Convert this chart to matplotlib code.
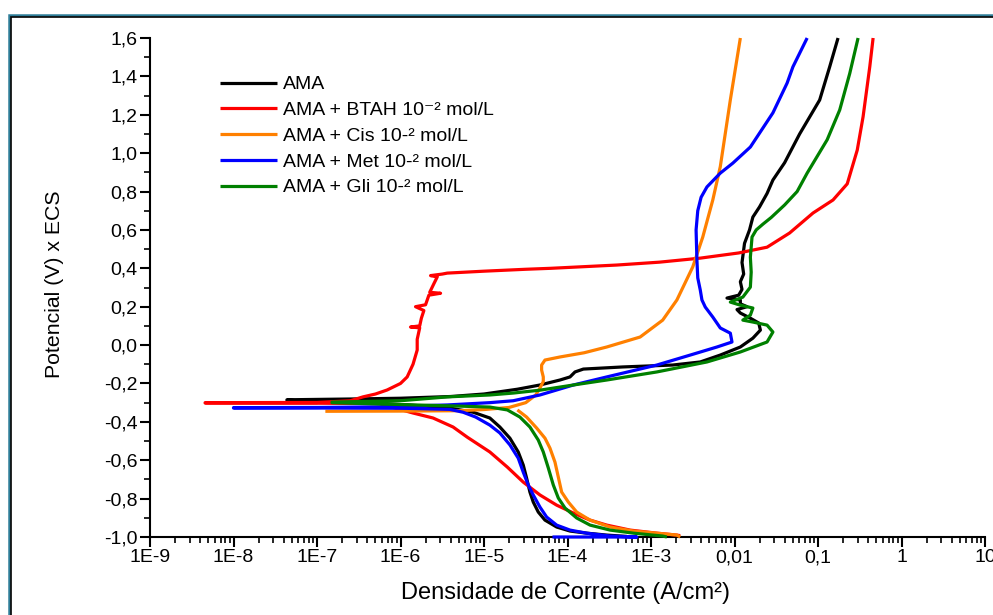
import matplotlib
matplotlib.use("Agg")
import numpy as np
import matplotlib.pyplot as plt
from matplotlib.patches import Rectangle
from matplotlib.ticker import FixedLocator, FixedFormatter, LogLocator, NullFormatter, MultipleLocator

plt.rcParams['font.family'] = ['Liberation Sans', 'DejaVu Sans']
plt.rcParams['mathtext.default'] = 'regular'
plt.rcParams['axes.unicode_minus'] = False

# ---- data: log10 of current density (A/cm2) and potential (V vs ECS) ----
# nan marks a break in a recorded curve
ama_logi = [-3.29, -3.53, -3.77, -3.97, -4.13, -4.27, -4.35, -4.41, -4.45, -4.49, -4.53, -4.59, -4.69,
            -4.81, -4.93, -5.13, -5.41, -5.9, -6.6, -7.36,
            -7.36, -6.6, -6.0, -5.4, -5.0, -4.6, -4.33, -4.09, -3.97, -3.91, -3.81, -3.34, -2.74, -2.41,
            -2.17, -1.93, -1.78, -1.69, -1.71, -1.81, -1.93, -1.97, -1.85, -1.93, -1.93, -2.09, -1.95,
            -1.91, -1.93, -1.89, -1.91, -1.88, -1.82, -1.78, -1.70, -1.61, -1.54, -1.40, -1.22, -0.98,
            -0.86, -0.76]
ama_e = [-0.997, -0.990, -0.980, -0.969, -0.948, -0.912, -0.870, -0.818, -0.766, -0.693, -0.625, -0.557, -0.485,
         -0.427, -0.380, -0.350, -0.328, -0.312, -0.298, -0.288,
         -0.285, -0.281, -0.277, -0.268, -0.255, -0.230, -0.208, -0.182, -0.166, -0.140, -0.125, -0.114, -0.104, -0.088,
         -0.052, -0.010, 0.036, 0.078, 0.115, 0.140, 0.167, 0.185, 0.200, 0.215, 0.235, 0.245, 0.260,
         0.290, 0.330, 0.370, 0.430, 0.530, 0.600, 0.667, 0.720, 0.790, 0.860, 0.950, 1.100, 1.277,
         1.450, 1.600]

btah_logi = [-2.65, -2.69, -2.93, -3.25, -3.53, -3.73, -3.93, -4.13, -4.33, -4.53, -4.72, -4.93, -5.2,
             -5.37, -5.61, -5.85, -6.05, -6.25, -7.0, -8.34,
             -8.34, -7.0, -6.6, -6.45, -6.3, -6.16, -6.0, -5.92, -5.85, -5.8, -5.8, -5.77, -5.88, -5.77,
             -5.75, -5.72, -5.82, -5.70, -5.68, -5.66, -5.52, -5.65, -5.6, -5.56, -5.64, -5.5, -5.44,
             -5.0, -4.5, -4.2, -3.41, -2.9, -2.41, -1.95, -1.61, -1.34, -1.06, -0.82, -0.65, -0.53,
             -0.46, -0.38, -0.34]
btah_e = [-0.993, -0.990, -0.980, -0.964, -0.938, -0.912, -0.875, -0.834, -0.781, -0.714, -0.636, -0.557, -0.480,
          -0.427, -0.380, -0.354, -0.330, -0.305, -0.303, -0.302,
          -0.300, -0.299, -0.290, -0.270, -0.255, -0.234, -0.200, -0.166, -0.100, -0.026, 0.030, 0.090, 0.094, 0.100,
          0.140, 0.180, 0.200, 0.210, 0.235, 0.260, 0.270, 0.275, 0.320, 0.355, 0.362, 0.370, 0.375,
          0.385, 0.395, 0.400, 0.417, 0.432, 0.453, 0.480, 0.510, 0.584, 0.688, 0.756, 0.840, 1.016,
          1.190, 1.450, 1.600]

cis_logi = [-2.65, -2.69, -2.93, -3.21, -3.49, -3.73, -3.89, -3.99, -4.07, -4.11, -4.15, -4.21, -4.27,
            -4.37, -4.49, -4.6, np.nan,
            -6.9, -6.0, -5.3, -5.0, -4.7, -4.5, -4.38, -4.33, -4.29, -4.29, -4.31, -4.31, -4.27, -4.09,
            -3.8, -3.53, -3.13, -2.86, -2.69, -2.5, -2.38, -2.26, -2.17, -2.05, -1.93]
cis_e = [-1.000, -0.990, -0.980, -0.969, -0.948, -0.912, -0.870, -0.818, -0.766, -0.688, -0.610, -0.537, -0.485,
         -0.432, -0.375, -0.338, np.nan,
         -0.345, -0.344, -0.342, -0.336, -0.325, -0.300, -0.260, -0.224, -0.190, -0.166, -0.130, -0.104, -0.078, -0.062,
         -0.040, -0.010, 0.042, 0.130, 0.235, 0.407, 0.563, 0.756, 0.930, 1.277, 1.600]

met_logi = [-4.18, -3.17, -3.49, -3.77, -3.97, -4.13, -4.25, -4.33, -4.41, -4.47, -4.53, -4.59, -4.69,
            -4.81, -4.93, -5.1, -5.25, -5.41, -6.0, -7.0, -8.0,
            -8.0, -7.0, -6.25, -5.44, -4.93, -4.65, -4.33, -3.93, -3.53, -2.93, -2.53, -2.21, -2.03,
            -2.05, -2.17, -2.26, -2.35, -2.39, -2.41, -2.44, -2.45, -2.46, -2.44, -2.4, -2.33, -2.17,
            -2.02, -1.81, -1.54, -1.37, -1.3, -1.13]
met_e = [-1.000, -1.000, -0.995, -0.980, -0.964, -0.938, -0.896, -0.844, -0.781, -0.729, -0.662, -0.589, -0.520,
         -0.458, -0.417, -0.375, -0.350, -0.335, -0.329, -0.328, -0.328,
         -0.326, -0.325, -0.322, -0.312, -0.300, -0.290, -0.260, -0.208, -0.166, -0.104, -0.052, -0.010, 0.016,
         0.062, 0.089, 0.146, 0.198, 0.235, 0.287, 0.350, 0.443, 0.600, 0.700, 0.770, 0.824, 0.896,
         0.948, 1.032, 1.210, 1.365, 1.450, 1.600]

gli_logi = [-2.81, -2.86, -3.21, -3.49, -3.73, -3.89, -4.03, -4.11, -4.17, -4.23, -4.29, -4.35, -4.45,
            -4.57, -4.72, -4.93, -5.3, -6.0, -6.82,
            -6.82, -6.0, -5.44, -4.93, -4.65, -4.33, -3.93, -3.53, -2.93, -2.33, -1.93, -1.61, -1.54,
            -1.61, -1.78, -1.90, -1.81, -1.78, -1.93, -2.05, -1.90, -1.81, -1.80, -1.81, -1.79, -1.74,
            -1.66, -1.56, -1.40, -1.25, -1.13, -0.89, -0.74, -0.62, -0.52]
gli_e = [-1.000, -0.995, -0.980, -0.964, -0.938, -0.901, -0.849, -0.797, -0.729, -0.640, -0.557, -0.495, -0.427,
         -0.375, -0.338, -0.323, -0.318, -0.310, -0.300,
         -0.297, -0.290, -0.270, -0.260, -0.250, -0.235, -0.208, -0.182, -0.140, -0.088, -0.036, 0.016, 0.068,
         0.104, 0.120, 0.130, 0.156, 0.193, 0.208, 0.224, 0.250, 0.302, 0.380, 0.458, 0.563, 0.600,
         0.630, 0.665, 0.730, 0.800, 0.896, 1.070, 1.225, 1.415, 1.600]

labels = ['AMA', 'AMA + BTAH 10⁻² mol/L', 'AMA + Cis 10-² mol/L',
          'AMA + Met 10-² mol/L', 'AMA + Gli 10-² mol/L']
colors = ['#000000', '#ff0000', '#ff8000', '#0000ff', '#008000']

xticks = [1e-9, 1e-8, 1e-7, 1e-6, 1e-5, 1e-4, 1e-3, 1e-2, 1e-1, 1, 10]
xticklabels = ['1E-9', '1E-8', '1E-7', '1E-6', '1E-5', '1E-4', '1E-3', '0,01', '0,1', '1', '10']
yticks = [-1.0, -0.8, -0.6, -0.4, -0.2, 0.0, 0.2, 0.4, 0.6, 0.8, 1.0, 1.2, 1.4, 1.6]
yticklabels = ['-1,0', '-0,8', '-0,6', '-0,4', '-0,2', '0,0', '0,2', '0,4', '0,6', '0,8',
               '1,0', '1,2', '1,4', '1,6']

W, H = 993, 615
fig = plt.figure(figsize=(W / 100, H / 100), dpi=100)
ax = fig.add_axes([150 / W, 1 - 537 / H, (985 - 150) / W, (537 - 38) / H])

series = [(ama_logi, ama_e), (btah_logi, btah_e), (cis_logi, cis_e), (met_logi, met_e), (gli_logi, gli_e)]
order = [1, 2, 4, 0, 3]
handles = {}
for k in order:
    li, ye = series[k]
    ln, = ax.plot(10 ** np.array(li, dtype=float), ye, color=colors[k], lw=2.3, label=labels[k],
                  clip_on=False, solid_capstyle='butt', solid_joinstyle='round', zorder=3 + k * 0.1)
    handles[k] = ln

ax.set_xscale('log')
ax.set_xlim(1e-9, 10)
ax.set_ylim(-1.0, 1.6)
ax.xaxis.set_major_locator(FixedLocator(xticks))
ax.xaxis.set_major_formatter(FixedFormatter(xticklabels))
ax.xaxis.set_minor_locator(LogLocator(base=10, subs=range(2, 10), numticks=100))
ax.xaxis.set_minor_formatter(NullFormatter())
ax.yaxis.set_major_locator(FixedLocator(yticks))
ax.yaxis.set_major_formatter(FixedFormatter(yticklabels))
ax.yaxis.set_minor_locator(MultipleLocator(0.1))

for s in ['top', 'right']:
    ax.spines[s].set_visible(False)
for s in ['left', 'bottom']:
    ax.spines[s].set_linewidth(1.5)
ax.tick_params(which='major', direction='out', length=7, width=1.5, labelsize=14, pad=2, colors='black')
ax.tick_params(which='minor', direction='out', length=4, width=1.2)

ax.set_xlabel('Densidade de Corrente (A/cm²)', fontsize=17)
ax.set_ylabel('Potencial (V) x ECS', fontsize=15.3)
ax.xaxis.set_label_coords(0.498, -0.09)
ax.yaxis.set_label_coords(-0.103, 0.507)

leg = ax.legend([handles[k] for k in range(5)], labels, loc='upper left',
                bbox_to_anchor=(0.075, 0.94), frameon=False, fontsize=14,
                handlelength=2.9, handletextpad=0.32, labelspacing=0.42, borderaxespad=0)

# outer frame (teal + black), cut at right and bottom edges
fig.add_artist(Rectangle((8.5 / W, -0.5), 2.0, 0.5 + 1 - 15 / H, transform=fig.transFigure,
                         fill=False, edgecolor='#2e7d98', linewidth=1.8, clip_on=False))
fig.add_artist(Rectangle((10.5 / W, -0.5), 2.0, 0.5 + 1 - 17 / H, transform=fig.transFigure,
                         fill=False, edgecolor='black', linewidth=1.2, clip_on=False))

fig.savefig('out.png', dpi=100)
